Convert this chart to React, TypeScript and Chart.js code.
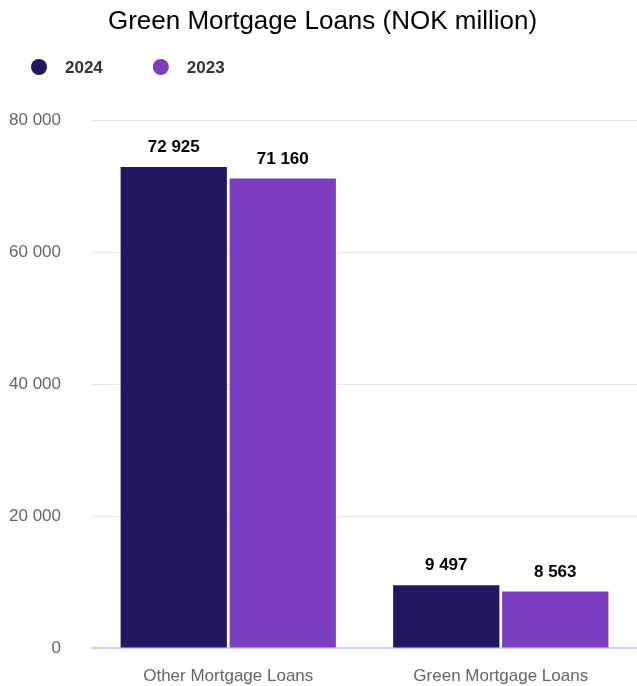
import React, { useEffect, useRef } from "react";
import { Chart, registerables } from "chart.js";

Chart.register(...registerables);

const categories = ["Other Mortgage Loans", "Green Mortgage Loans"];
const seriesLabels = ["2024", "2023"];
const values2024 = [72925, 9497];
const values2023 = [71160, 8563];
const seriesColors = ["#231762", "#7a3dbd"];
const yTicks = [0, 20000, 40000, 60000, 80000];

const FONT = "'Liberation Sans', Arial, Helvetica, sans-serif";

function fmt(v: number): string {
  return Math.round(v)
    .toString()
    .replace(/\B(?=(\d{3})+(?!\d))/g, " ");
}

const valueLabelPlugin = {
  id: "valueLabels",
  afterDatasetsDraw(chart: any) {
    const ctx = chart.ctx;
    ctx.save();
    ctx.font = `bold 17px ${FONT}`;
    ctx.fillStyle = "#000000";
    ctx.textAlign = "center";
    ctx.textBaseline = "alphabetic";
    chart.data.datasets.forEach((ds: any, i: number) => {
      const meta = chart.getDatasetMeta(i);
      meta.data.forEach((bar: any, j: number) => {
        ctx.fillText(fmt(ds.data[j]), bar.x, bar.y - 15);
      });
    });
    ctx.restore();
  },
};

const legendPlugin = {
  id: "customLegend",
  afterDraw(chart: any) {
    const ctx = chart.ctx;
    ctx.save();
    ctx.font = `bold 17px ${FONT}`;
    ctx.textBaseline = "middle";
    ctx.textAlign = "left";
    let x = 31;
    const y = 67;
    chart.data.datasets.forEach((ds: any) => {
      ctx.fillStyle = ds.backgroundColor;
      ctx.beginPath();
      ctx.arc(x + 8, y, 8, 0, Math.PI * 2);
      ctx.fill();
      ctx.fillStyle = "#333333";
      ctx.fillText(ds.label, x + 34, y + 1);
      const w = ctx.measureText(ds.label).width;
      x = x + 34 + w + 50;
    });
    ctx.restore();
  },
};

export default function App() {
  const ref = useRef<HTMLCanvasElement | null>(null);

  useEffect(() => {
    document.body.style.margin = "0";
    if (!ref.current) return;
    const chart = new Chart(ref.current, {
      type: "bar",
      data: {
        labels: categories,
        datasets: [
          {
            label: seriesLabels[0],
            data: values2024,
            backgroundColor: seriesColors[0],
            categoryPercentage: 0.8,
            barPercentage: 0.975,
          },
          {
            label: seriesLabels[1],
            data: values2023,
            backgroundColor: seriesColors[1],
            categoryPercentage: 0.8,
            barPercentage: 0.975,
          },
        ],
      },
      options: {
        animation: false,
        responsive: false,
        maintainAspectRatio: false,
        layout: { padding: { left: 8, right: 0, top: 0, bottom: 0 } },
        plugins: {
          legend: { display: false },
          tooltip: { enabled: false },
          title: {
            display: true,
            text: "Green Mortgage Loans (NOK million)",
            color: "#000000",
            font: { family: FONT, size: 26, weight: "normal" },
            padding: { top: 6, bottom: 83 },
          },
        },
        scales: {
          x: {
            grid: { display: false, drawTicks: false },
            border: { display: true, color: "#ccd6eb", width: 2 },
            ticks: {
              color: "#666666",
              font: { family: FONT, size: 17 },
              padding: 18,
              maxRotation: 0,
            },
            afterFit: (axis: any) => {
              axis.paddingLeft = 0;
              axis.paddingRight = 0;
              axis.height = 38;
            },
          },
          y: {
            min: 0,
            max: yTicks[yTicks.length - 1],
            afterBuildTicks: (axis: any) => {
              axis.ticks = yTicks.map((v) => ({ value: v }));
            },
            afterFit: (axis: any) => {
              axis.width = 84;
              axis.paddingTop = 0;
              axis.paddingBottom = 0;
            },
            grid: { color: "#e6e6e6", lineWidth: 1, drawTicks: false },
            border: { display: false },
            ticks: {
              color: "#666666",
              font: { family: FONT, size: 17 },
              padding: 31,
              callback: (v: any) => fmt(Number(v)),
            },
          },
        },
      },
      plugins: [valueLabelPlugin, legendPlugin],
    });
    return () => chart.destroy();
  }, []);

  return (
    <div style={{ width: 637, height: 686 }}>
      <canvas ref={ref} width={637} height={686} style={{ display: "block" }} />
    </div>
  );
}
